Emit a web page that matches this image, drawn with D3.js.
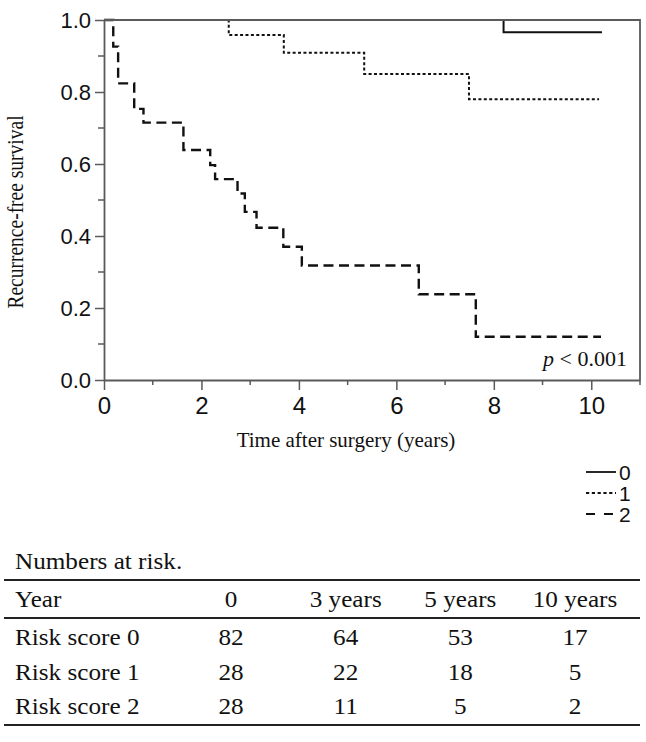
<!DOCTYPE html>
<html>
<head>
<meta charset="utf-8">
<script src="https://cdn.jsdelivr.net/npm/d3@7"></script>
<style>
html,body{margin:0;padding:0;background:#fff;}
svg{display:block;}
</style>
</head>
<body>
<svg id="chart" width="646" height="742"></svg>
<script>
// ---- data ----
const groups = ["0", "1", "2"];
const times0 = [8.2];
const surv0 = [0.966];
const end0 = 10.22;
const times1 = [2.56, 3.69, 5.34, 7.49];
const surv1 = [0.958, 0.909, 0.85, 0.78];
const end1 = 10.16;
const times2 = [0.19, 0.29, 0.62, 0.81, 1.63, 2.18, 2.28, 2.74, 2.89, 3.13, 3.68, 4.06, 6.46, 7.63];
const surv2 = [0.926, 0.824, 0.753, 0.715, 0.639, 0.597, 0.558, 0.518, 0.467, 0.423, 0.37, 0.318, 0.238, 0.12];
const end2 = 10.2;
const xTicks = [0, 2, 4, 6, 8, 10];
const xMinor = [1, 3, 5, 7, 9, 11];
const yTicks = [0, 0.2, 0.4, 0.6, 0.8, 1.0];
const yMinor = [0.1, 0.3, 0.5, 0.7, 0.9];
const tableHeader = ["Year", "0", "3 years", "5 years", "10 years"];
const rowLabels = ["Risk score 0", "Risk score 1", "Risk score 2"];
const atRisk = [[82, 64, 53, 17], [28, 22, 18, 5], [28, 11, 5, 2]];

// ---- layout ----
const svg = d3.select("#chart");
const X0 = 104, X1 = 640, Y0 = 380, Y1 = 20;
const x = d3.scaleLinear().domain([0, 11]).range([X0, X1]);
const y = d3.scaleLinear().domain([0, 1]).range([Y0, Y1]);
const axisColor = "#5a5a5a";

function steps(times, surv, end) {
  const pts = [[0, 1]];
  times.forEach((t, i) => pts.push([t, surv[i]]));
  pts.push([end, surv[surv.length - 1]]);
  return pts;
}
const series = [
  {pts: steps(times0, surv0, end0), dash: null, legDash: null, w: 2},
  {pts: steps(times1, surv1, end1), dash: "3,2.4", legDash: "3.2,2.6", w: 2},
  {pts: steps(times2, surv2, end2), dash: "10,5.5", legDash: "9,9", w: 2.4}
];
const line = d3.line().x(d => x(d[0])).y(d => y(d[1])).curve(d3.curveStepAfter);

svg.append("g").selectAll("path").data(series).join("path")
  .attr("d", d => line(d.pts))
  .attr("fill", "none")
  .attr("stroke", "#111")
  .attr("stroke-width", d => d.w)
  .attr("stroke-dasharray", d => d.dash);

// frame (drawn on top so the 1.0 level is hidden like the reference)
svg.append("path")
  .attr("d", `M${X0},${Y1}H${X1}V${Y0}`)
  .attr("fill", "none").attr("stroke", axisColor).attr("stroke-width", 1.8);

// axes
const yAxis = d3.axisLeft(y).tickValues(yTicks).tickFormat(d3.format(".1f")).tickSize(9).tickSizeOuter(0).tickPadding(4);
const gy = svg.append("g").attr("transform", `translate(${X0},0)`).call(yAxis);
svg.append("g").selectAll("line").data(yMinor).join("line")
  .attr("x1", X0 - 6).attr("x2", X0).attr("y1", d => y(d)).attr("y2", d => y(d))
  .attr("stroke", axisColor).attr("stroke-width", 1.5);

const xAxis = d3.axisBottom(x).tickValues(xTicks).tickFormat(d3.format("d")).tickSize(10).tickSizeOuter(0).tickPadding(5);
const gx = svg.append("g").attr("transform", `translate(0,${Y0})`).call(xAxis);
svg.append("g").selectAll("line").data(xMinor).join("line")
  .attr("x1", d => x(d)).attr("x2", d => x(d)).attr("y1", Y0).attr("y2", Y0 + 5)
  .attr("stroke", axisColor).attr("stroke-width", 1.5);

[gx, gy].forEach(g => {
  g.select(".domain").attr("stroke", axisColor).attr("stroke-width", 1.8);
  g.selectAll(".tick line").attr("stroke", axisColor).attr("stroke-width", 1.5);
  g.selectAll(".tick text").attr("fill", "#111").attr("font-family", "'Liberation Sans', Arial, sans-serif");
});
gy.selectAll(".tick text").attr("font-size", 22).attr("dy", "0.36em");
gx.selectAll(".tick text").attr("font-size", 24).attr("dy", "0.78em");

// axis titles
svg.append("text")
  .attr("transform", `translate(23,212) rotate(-90) scale(1,1.15)`)
  .attr("text-anchor", "middle")
  .attr("font-family", "'Liberation Serif', 'Times New Roman', serif")
  .attr("font-size", 19.5).attr("fill", "#111")
  .text("Recurrence-free survival");

svg.append("text")
  .attr("x", 346).attr("y", 447)
  .attr("text-anchor", "middle")
  .attr("font-family", "'Liberation Serif', 'Times New Roman', serif")
  .attr("font-size", 21).attr("fill", "#111")
  .text("Time after surgery (years)");

// p value
const pt = svg.append("text")
  .attr("x", 627).attr("y", 366)
  .attr("text-anchor", "end")
  .attr("font-family", "'Liberation Serif', 'Times New Roman', serif")
  .attr("font-size", 22).attr("fill", "#111");
pt.append("tspan").attr("font-style", "italic").text("p");
pt.append("tspan").text(" < 0.001");

// legend
const legY = d3.scalePoint().domain(groups).range([472, 514]);
const lg = svg.append("g").selectAll("g").data(series).join("g")
  .attr("transform", (d, i) => `translate(0,${legY(groups[i])})`);
lg.append("line").attr("x1", 586).attr("x2", 616).attr("y1", 0).attr("y2", 0)
  .attr("stroke", "#111").attr("stroke-width", 1.8)
  .attr("stroke-dasharray", d => d.legDash);
lg.append("text").attr("x", 619).attr("y", 0).attr("dy", "0.36em")
  .attr("font-family", "'Liberation Sans', Arial, sans-serif")
  .attr("font-size", 21).attr("fill", "#111")
  .text((d, i) => groups[i]);

// numbers at risk table
const serif = "'Liberation Serif', 'Times New Roman', serif";
const colX = d3.scalePoint().domain(tableHeader.slice(1)).range([231, 575]);
const rowY = d3.scalePoint().domain(rowLabels).range([645, 714]);
const SX = 1.12;
function tText(px, py, str, anchor) {
  svg.append("text")
    .attr("transform", `translate(${px},${py}) scale(${SX},1)`)
    .attr("text-anchor", anchor)
    .attr("font-family", serif).attr("font-size", 22.5).attr("fill", "#111")
    .text(str);
}
tText(15, 569, "Numbers at risk.", "start");
const rules = [580, 618, 725];
svg.append("g").selectAll("line").data(rules).join("line")
  .attr("x1", 4).attr("x2", 640).attr("y1", d => d).attr("y2", d => d)
  .attr("stroke", "#222").attr("stroke-width", 1.8);
tText(15, 607, tableHeader[0], "start");
tableHeader.slice(1).forEach(h => tText(colX(h), 607, h, "middle"));
rowLabels.forEach((r, i) => {
  tText(15, rowY(r), r, "start");
  atRisk[i].forEach((v, j) => tText(colX(tableHeader[j + 1]), rowY(r), String(v), "middle"));
});
</script>
</body>
</html>
